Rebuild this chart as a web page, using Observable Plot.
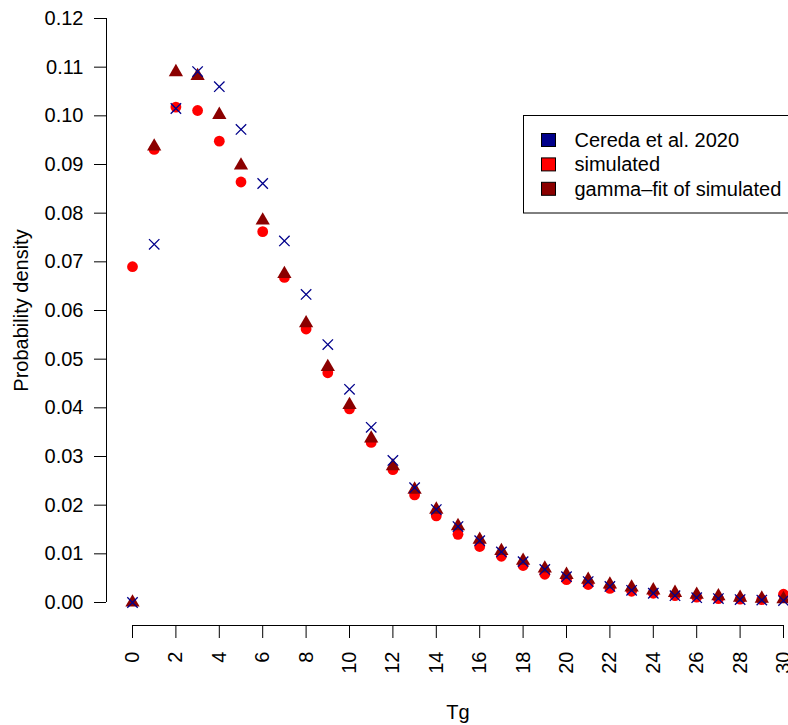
<!DOCTYPE html>
<html>
<head>
<meta charset="utf-8">
<script src="https://cdn.jsdelivr.net/npm/d3@7"></script>
<script src="https://cdn.jsdelivr.net/npm/@observablehq/plot@0.6"></script>
<style>
  html, body { margin: 0; padding: 0; background: #fff; }
  #chart svg { display: block; }
</style>
</head>
<body>
<div id="chart"></div>
<script>
// ---- data ----
const tg = [0,1,2,3,4,5,6,7,8,9,10,11,12,13,14,15,16,17,18,19,20,21,22,23,24,25,26,27,28,29,30];
const cereda = [0.0000,0.0736,0.1015,0.1091,0.1060,0.0972,0.0861,0.0743,0.0633,0.0530,0.0438,0.0360,0.0292,0.0236,0.0191,0.0156,0.0127,0.0104,0.0084,0.0068,0.0053,0.0043,0.0033,0.0025,0.0019,0.0014,0.0010,0.0008,0.0006,0.0005,0.0004];
const simulated = [0.0690,0.0931,0.1018,0.1011,0.0948,0.0864,0.0762,0.0668,0.0562,0.0472,0.0398,0.0329,0.0273,0.0221,0.0178,0.0140,0.0115,0.0095,0.0076,0.0058,0.0047,0.0037,0.0029,0.0023,0.0019,0.0014,0.0011,0.0008,0.0007,0.0006,0.0017];
const gammaFit = [0.0000,0.0937,0.1090,0.1082,0.1002,0.0898,0.0785,0.0675,0.0574,0.0484,0.0406,0.0337,0.0280,0.0232,0.0191,0.0157,0.0129,0.0106,0.0086,0.0070,0.0057,0.0047,0.0037,0.0031,0.0025,0.0020,0.0016,0.0013,0.0010,0.0008,0.0007];
const xTicks = [0,2,4,6,8,10,12,14,16,18,20,22,24,26,28,30];
const yTicks = [0,0.01,0.02,0.03,0.04,0.05,0.06,0.07,0.08,0.09,0.10,0.11,0.12];
const seriesNames = ["Cereda et al. 2020", "simulated", "gamma\u2013fit of simulated"];
const seriesColors = ["#00008B", "#FF0000", "#8B0000"];
const xLabel = "Tg";
const yLabel = "Probability density";

const rows = tg.map((t, i) => ({t, cereda: cereda[i], simulated: simulated[i], gamma: gammaFit[i]}));
const FONT = "'Liberation Sans', Arial, Helvetica, sans-serif";
const FS = 20;

const plot = Plot.plot({
  width: 788,
  height: 725,
  marginLeft: 132,
  marginRight: 5,
  marginTop: 18,
  marginBottom: 123,
  style: {fontFamily: FONT, fontSize: FS + "px", background: "#fff", color: "#000", overflow: "hidden"},
  x: {domain: [0, 30], label: null},
  y: {domain: [0, 0.12], label: null},
  marks: [
    // y axis
    Plot.ruleX([0], {y1: 0, y2: 0.12, dx: -26, stroke: "#000", strokeWidth: 1}),
    Plot.axisY(yTicks, {anchor: "left", label: null, tickSize: 12, tickPadding: 11, dx: -26, tickFormat: d3.format(".2f"), fontSize: FS, stroke: "#000", fill: "#000"}),
    // x axis
    Plot.ruleY([0], {x1: 0, x2: 30, dy: 23, stroke: "#000", strokeWidth: 1}),
    Plot.axisX(xTicks, {anchor: "bottom", label: null, tickSize: 13, dy: 23, tickFormat: () => "", stroke: "#000"}),
    Plot.text(xTicks, {x: d => d, text: d => String(d), frameAnchor: "bottom", dy: 49, rotate: -90, textAnchor: "end", lineAnchor: "middle", fontSize: FS, fill: "#000"}),
    // axis titles
    Plot.text([xLabel], {frameAnchor: "bottom", dy: 110, textAnchor: "middle", lineAnchor: "middle", fontSize: FS, fill: "#000"}),
    Plot.text([yLabel], {frameAnchor: "left", dx: -111, rotate: -90, textAnchor: "middle", lineAnchor: "middle", fontSize: FS, fill: "#000"}),
    // data
    Plot.dot(rows, {x: "t", y: "simulated", r: 5.4, fill: seriesColors[1], symbol: "circle"}),
    Plot.dot(rows, {x: "t", y: "gamma", r: 5.3, fill: seriesColors[2], symbol: "triangle"}),
    Plot.dot(rows, {x: "t", y: "cereda", r: 4.8, stroke: seriesColors[0], strokeWidth: 1.3, fill: "none", symbol: "times"})
  ]
});

document.getElementById("chart").appendChild(plot);

// legend inside the plot area (top right, clipped at the edge like the original)
const svg = d3.select(plot);
const lg = svg.append("g").attr("font-family", FONT).attr("font-size", FS).attr("text-anchor", "start");
lg.append("rect").attr("x", 523.5).attr("y", 115.5).attr("width", 290).attr("height", 97.5)
  .attr("fill", "#fff").attr("stroke", "#000").attr("stroke-width", 1);
seriesNames.forEach((name, i) => {
  const cy = 140 + i * 24.4;
  lg.append("rect").attr("x", 541.5).attr("y", cy - 6.5).attr("width", 14).attr("height", 13)
    .attr("fill", seriesColors[i]).attr("stroke", "#000").attr("stroke-width", 1);
  lg.append("text").attr("x", 574.5).attr("y", cy).attr("dy", "0.35em").attr("text-anchor", "start").attr("fill", "#000").text(name);
});
</script>
</body>
</html>
